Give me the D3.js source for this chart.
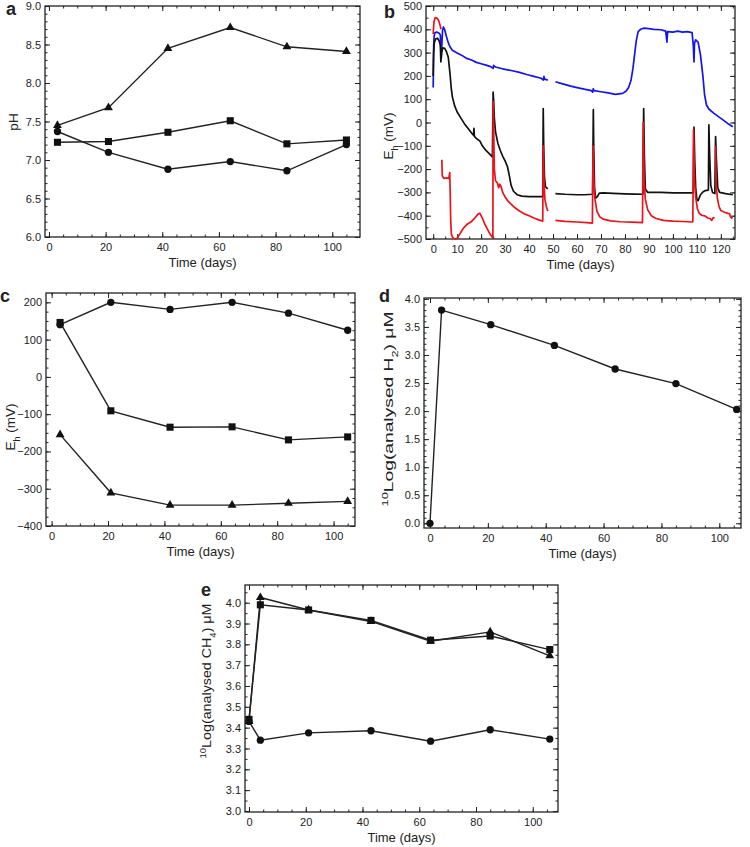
<!DOCTYPE html>
<html><head><meta charset="utf-8">
<script src="https://cdn.jsdelivr.net/npm/d3@7"></script>
<style>
body{margin:0;background:#fff}
svg text{font-family:"Liberation Sans",Arial,sans-serif;fill:#222}
</style>
</head><body>
<svg id="chart" width="750" height="847"></svg>
<script>
// ---------------- DATA ----------------
// Panel a: pH
const daysA = [3, 21, 42, 64, 84, 105];
const phTriangle = [7.45, 7.68, 8.45, 8.72, 8.47, 8.41];
const phSquare   = [7.23, 7.24, 7.36, 7.51, 7.21, 7.26];
const phCircle   = [7.37, 7.10, 6.88, 6.98, 6.86, 7.20];

// Panel b: continuous Eh (mV) logs, [day, mV]; null = gap
const ehBlue = [
 [0,150],[0.05,200],[0.1,260],[0.2,330],[0.4,370],[0.7,385],[1.5,388],[2.5,383],[3.0,375],[3.2,300],[3.4,280],[3.6,330],[3.9,395],[4.3,410],[4.8,398],[5.5,370],[6.2,345],[7,325],[8,310],[10,298],[12,288],[14,275],[16,268],[18,258],[20,252],[22,246],[24,240],[25,232],[25.2,245],[26,238],[28,233],[30,228],[33,222],[36,215],[39,206],[42,198],[45,190],[46,182],[46.2,198],[46.5,186],[47.8,182],null,
 [51,175],[54,166],[57,157],[60,150],[63,143],[66,137],[66.5,130],[66.8,145],[67,137],[70,132],[73,127],[76,121],[79,125],[80.5,135],[81.5,150],[82.5,180],[83.3,230],[84,290],[84.7,350],[85.5,390],[86.5,400],[88,405],[90,403],[92,400],[95,398],[97,392],[97.5,345],[97.8,390],[100,388],[102,392],[104,388],[106,390],[108,386],[108.5,330],[108.8,260],[109,340],[109.5,355],[110.5,345],[111.5,290],[112.5,200],[113.2,120],[114,75],[115,58],[117,40],[119,25],[121,10],[123,-5],[125,-18]
];
const ehBlack = [
 [0,200],[0.2,300],[0.5,345],[1,358],[1.8,362],[2.5,350],[3,330],[3.2,260],[3.5,300],[4,320],[4.8,318],[5.5,305],[6.3,280],[6.8,230],[7.1,200],[7.5,150],[8,110],[9,70],[10,45],[11.5,20],[13,-5],[14.5,-25],[16,-45],[16.8,-55],[17,-25],[17.2,-60],[18,-68],[19.5,-80],[20.5,-100],[22,-120],[23.5,-135],[24.7,-148],[25,130],[25.2,100],[25.5,20],[26,-40],[27,-90],[28,-120],[29,-145],[30,-165],[31,-190],[31.8,-230],[32.5,-270],[33.5,-295],[35,-310],[37,-316],[40,-318],[43,-318],[45.7,-318],[45.9,60],[46.1,-100],[46.4,-230],[46.8,-275],[47.8,-285],null,
 [51,-305],[55,-308],[60,-310],[63,-310],[66.5,-308],[66.8,55],[67,-120],[67.3,-280],[67.8,-325],[68.5,-318],[69.3,-303],[71,-302],[75,-304],[80,-306],[84,-307],[87.5,-308],[87.8,60],[88.1,-150],[88.5,-285],[89.5,-300],[95,-300],[100,-302],[105,-302],[108.5,-302],[108.8,-20],[109.1,-160],[109.5,-280],[110,-330],[110.5,-335],[111.5,-310],[112.5,-298],[113.5,-292],[114.8,-290],[115,-10],[115.3,-130],[115.8,-270],[116.5,-300],[117.5,-305],[117.8,-60],[118.1,-150],[118.7,-280],[119.5,-300],[122,-305],[125,-310]
];
const ehRed = [
 [0,380],[0.3,430],[0.8,450],[1.5,448],[2.2,440],[2.8,420],[3.3,400],null,
 [3.6,-160],[3.8,-230],[4.5,-240],[5.5,-238],[6.5,-240],[6.9,-215],[7.1,-300],[7.3,-420],[7.6,-480],[8.2,-495],[9,-500],[10,-497],[11,-480],[12.5,-455],[14,-438],[16,-425],[17.5,-408],[18.8,-392],[19.5,-390],[20.5,-410],[21.5,-435],[22.5,-455],[23.5,-475],[24.5,-490],[24.9,-495],[25,90],[25.2,0],[25.5,-200],[26,-250],[26.8,-260],[27.3,-280],[27.8,-265],[28.3,-275],[29,-300],[30,-320],[31,-335],[32.5,-350],[34,-365],[36,-380],[38,-392],[40,-400],[42,-410],[44,-418],[45.7,-423],[45.9,-100],[46.2,-250],[46.6,-330],[47.2,-360],[47.8,-380],null,
 [51,-420],[55,-424],[60,-427],[64,-430],[66.4,-432],[66.7,-100],[67,-250],[67.5,-330],[68.3,-380],[69.5,-405],[71,-415],[74,-422],[78,-426],[83,-428],[87.3,-430],[87.6,0],[88,-250],[88.5,-330],[89.5,-375],[91,-400],[93,-412],[96,-420],[100,-423],[104,-425],[108.3,-427],[108.6,-30],[109,-250],[109.5,-320],[110.2,-370],[111,-390],[112,-398],[113.5,-402],[114.5,-410],[115.5,-412],[116.2,-420],[116.8,-408],[117.4,-410],null,
 [117.8,-100],[118,-250],[118.5,-320],[119.2,-360],[120,-378],[121.5,-385],[123,-390],[123.7,-392],[124,-405],[124.5,-410],[125,-408]
];

// Panel c: Eh (mV) discrete
const daysC = [3, 21, 42, 64, 84, 105];
const ehCircle   = [140, 200, 181, 200, 171, 125];
const ehSquare   = [146, -91, -135, -134, -169, -161];
const ehTriangle = [-155, -311, -344, -344, -339, -334];

// Panel d: log H2
const daysD = [0, 4, 21, 43, 64, 85, 106];
const h2Log = [0.0, 3.80, 3.54, 3.17, 2.75, 2.49, 2.03];

// Panel e: log CH4
const daysE = [0, 4, 21, 43, 64, 85, 106];
const ch4Circle   = [3.43, 3.34, 3.375, 3.385, 3.335, 3.39, 3.345];
const ch4Square   = [3.44, 3.99, 3.965, 3.915, 3.82, 3.84, 3.775];
const ch4Triangle = [3.43, 4.025, 3.965, 3.91, 3.815, 3.86, 3.745];

// ---------------- DRAWING ----------------
const svg = d3.select("#chart");
const INK = "#222";

function panel(c){
  const x = d3.scaleLinear().domain(c.xd).range([c.L, c.R]);
  const y = d3.scaleLinear().domain(c.yd).range([c.B, c.T]);
  const g = svg.append("g");
  const maj = 5, mn = 2.5;
  const xMaj = d3.range(c.xt[0], c.xt[1] + 1e-9, c.xt[2]);
  const yMaj = d3.range(c.yt[0], c.yt[1] + 1e-9, c.yt[2]);
  const xMin = d3.range(Math.ceil(c.xd[0]/c.xm)*c.xm, c.xd[1], c.xm);
  const yMin = d3.range(Math.ceil(c.yd[0]/c.ym - 1e-9)*c.ym, c.yd[1], c.ym);
  function ax(gen, pos, vals, size, fmt, pad){
    const a = g.append("g").attr("transform", pos)
      .call(gen.tickValues(vals).tickSize(-size).tickPadding(pad).tickFormat(fmt));
    a.select(".domain").remove();
    a.selectAll("line").attr("stroke", INK).attr("stroke-width", 1);
    a.selectAll("text").attr("font-family", null).style("font-size", "11px").attr("fill", INK);
    a.attr("font-family", null).attr("font-size", null);
    return a;
  }
  ax(d3.axisBottom(x), `translate(0,${c.B})`, xMin, mn, "", 0);
  ax(d3.axisTop(x), `translate(0,${c.T})`, xMin, mn, "", 0);
  ax(d3.axisLeft(y), `translate(${c.L},0)`, yMin, mn, "", 0);
  ax(d3.axisRight(y), `translate(${c.R},0)`, yMin, mn, "", 0);
  ax(d3.axisBottom(x), `translate(0,${c.B})`, xMaj, maj, d3.format("d"), 6);
  ax(d3.axisTop(x), `translate(0,${c.T})`, xMaj, maj, "", 0);
  ax(d3.axisLeft(y), `translate(${c.L},0)`, yMaj, maj, c.yf, 4);
  ax(d3.axisRight(y), `translate(${c.R},0)`, yMaj, maj, "", 0);
  g.append("rect").attr("x", c.L).attr("y", c.T).attr("width", c.R - c.L).attr("height", c.B - c.T)
    .attr("fill", "none").attr("stroke", INK).attr("stroke-width", 1.3);
  g.append("text").attr("x", (c.L + c.R)/2).attr("y", c.B + 30)
    .attr("text-anchor", "middle").style("font-size", "13px").text("Time (days)");
  g.append("text").attr("x", c.letter[0]).attr("y", c.letter[1])
    .style("font-size", "18px").style("font-weight", "bold").attr("fill", "#111").text(c.id);
  return {g, x, y};
}

function yTitle(g, cx, cy, parts, len){
  const t = g.append("text").attr("transform", `translate(${cx},${cy}) rotate(-90)`)
    .attr("text-anchor", "middle").attr("dy", "0.35em").style("font-size", "13.5px");
  parts.forEach(p => {
    const s = t.append("tspan").text(p.t);
    if (p.sub) s.attr("baseline-shift", "sub").style("font-size", "9px");
    if (p.sup) s.attr("baseline-shift", "super").style("font-size", "9px");
  });
  if (len) t.attr("textLength", len).attr("lengthAdjust", "spacingAndGlyphs");
}

function series(p, xs, ys, shape, size){
  const pts = xs.map((d, i) => [d, ys[i]]);
  p.g.append("path").datum(pts)
    .attr("d", d3.line().x(d => p.x(d[0])).y(d => p.y(d[1])))
    .attr("fill", "none").attr("stroke", INK).attr("stroke-width", 1.4);
  p.g.selectAll(null).data(pts).enter().append("path")
    .attr("transform", d => `translate(${p.x(d[0])},${p.y(d[1])})`)
    .attr("d", d3.symbol().type(shape).size(size))
    .attr("fill", "#111");
}

function trace(p, data, color){
  const clean = data.map(d => d ? d : [NaN, NaN]);
  p.g.append("path").datum(clean)
    .attr("d", d3.line().defined(d => !isNaN(d[0])).x(d => p.x(d[0])).y(d => p.y(d[1])))
    .attr("fill", "none").attr("stroke", color).attr("stroke-width", 1.7)
    .attr("stroke-linejoin", "round");
}

const f1 = d3.format(".1f");

// a
const pa = panel({id:"a", L:45, R:360, T:6, B:237, xd:[-1.4,109.8], yd:[6,9],
  xt:[0,100,20], xm:5, yt:[6,9,0.5], ym:0.1, yf:f1, letter:[6,15]});
yTitle(pa.g, 13, 122, [{t:"pH"}]);
series(pa, daysA, phCircle, d3.symbolCircle, 42);
series(pa, daysA, phSquare, d3.symbolSquare, 50);
series(pa, daysA, phTriangle, d3.symbolTriangle, 34);

// b
const pb = panel({id:"b", L:426, R:735, T:6, B:239, xd:[-3,125.9], yd:[-500,500],
  xt:[0,120,10], xm:5, yt:[-500,500,100], ym:50, yf:d3.format("d"), letter:[384,18]});
yTitle(pb.g, 388, 136, [{t:"E"},{t:"h",sub:true},{t:" (mV)"}]);
trace(pb, ehBlue, "#1414ee");
trace(pb, ehBlack, "#111");
trace(pb, ehRed, "#e8141a");

// c
const pc = panel({id:"c", L:46, R:355, T:293, B:526, xd:[-2,107.6], yd:[-400,225],
  xt:[0,100,20], xm:5, yt:[-400,200,100], ym:25, yf:d3.format("d"), letter:[0,302]});
yTitle(pc.g, 10, 427, [{t:"E"},{t:"h",sub:true},{t:" (mV)"}]);
series(pc, daysC, ehCircle, d3.symbolCircle, 42);
series(pc, daysC, ehSquare, d3.symbolSquare, 50);
series(pc, daysC, ehTriangle, d3.symbolTriangle, 34);

// d
const pd = panel({id:"d", L:424, R:741, T:298, B:528, xd:[-2.07,107.5], yd:[-0.084,4.016],
  xt:[0,100,20], xm:5, yt:[0,4,0.5], ym:0.1, yf:f1, letter:[379,302]});
yTitle(pd.g, 388, 409, [{t:"10",sup:true},{t:"Log(analysed H"},{t:"2",sub:true},{t:") \u03bcM"}], 195);
series(pd, daysD, h2Log, d3.symbolCircle, 42);

// e
const pe = panel({id:"e", L:245, R:558, T:585, B:812, xd:[-1.41,108.9], yd:[2.995,4.085],
  xt:[0,100,20], xm:5, yt:[3,4,0.1], ym:0.05, yf:f1, letter:[201,596]});
yTitle(pe.g, 206, 681, [{t:"10",sup:true},{t:"Log(analysed CH"},{t:"4",sub:true},{t:") \u03bcM"}], 155);
series(pe, daysE, ch4Circle, d3.symbolCircle, 42);
series(pe, daysE, ch4Triangle, d3.symbolTriangle, 34);
series(pe, daysE, ch4Square, d3.symbolSquare, 50);
</script>
</body></html>
